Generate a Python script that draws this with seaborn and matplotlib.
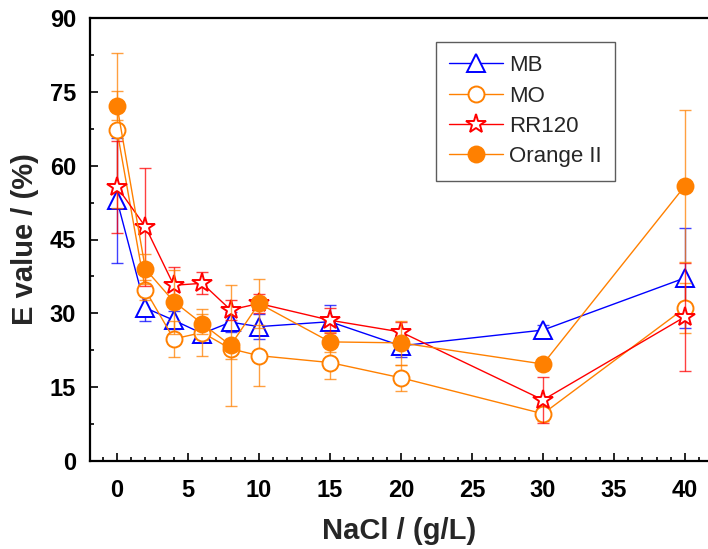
import numpy as np
import pandas as pd
import matplotlib
matplotlib.use("Agg")
import matplotlib.pyplot as plt
from matplotlib.ticker import MultipleLocator
import seaborn as sns

# ---- data ----
nacl = [0, 2, 4, 6, 8, 10, 15, 20, 30, 40]
series_names = ["MB", "MO", "RR120", "Orange II"]
mb = [53.0, 31.1, 28.6, 25.9, 28.2, 27.3, 28.3, 23.4, 26.6, 37.2]
mb_err = [12.7, 2.7, 1.8, 1.5, 2.0, 2.5, 3.4, 2.2, 1.0, 10.1]
mo = [67.2, 34.7, 24.8, 26.1, 22.8, 21.4, 20.0, 16.9, 9.6, 31.1]
mo_err = [15.7, 2.0, 3.7, 4.7, 2.0, 6.2, 3.3, 2.7, 1.5, 5.0]
rr120 = [55.7, 47.6, 35.7, 36.1, 30.7, 32.0, 28.6, 26.2, 12.4, 29.3]
rr120_err = [9.4, 12.0, 3.8, 2.2, 2.0, 2.0, 2.5, 2.0, 4.7, 11.0]
orange2 = [72.2, 39.0, 32.4, 27.9, 23.5, 32.0, 24.2, 24.0, 19.7, 55.9]
orange2_err = [3.0, 3.0, 6.5, 2.0, 12.3, 5.0, 2.0, 4.5, 1.2, 15.4]
x_ticks = [0, 5, 10, 15, 20, 25, 30, 35, 40]
y_ticks = [0, 15, 30, 45, 60, 75, 90]

values = [mb, mo, rr120, orange2]
errors = [mb_err, mo_err, rr120_err, orange2_err]

df = pd.concat([
    pd.DataFrame({"NaCl": nacl, "E": v, "err": e, "dye": n})
    for n, v, e in zip(series_names, values, errors)
], ignore_index=True)

sns.set_style("ticks")
plt.rcParams["font.family"] = ["Liberation Sans", "DejaVu Sans"]

fig = plt.figure(figsize=(7.08, 5.49), dpi=100)
ax = fig.add_axes([90 / 708, 88 / 549, 618 / 708, 443 / 549])

styles = {
    "MB": dict(color="#0000FF", marker="^", ms=13.5, mfc="white"),
    "MO": dict(color="#FF8000", marker="o", ms=11.5, mfc="white"),
    "RR120": dict(color="#FF0000", marker="*", ms=15, mfc="white"),
    "Orange II": dict(color="#FF8000", marker="o", ms=11.5, mfc="#FF8000"),
}

for i, name in enumerate(series_names):
    sub = df[df["dye"] == name]
    st = styles[name]
    ax.errorbar(sub["NaCl"], sub["E"], yerr=sub["err"], fmt="none",
                ecolor=st["color"], elinewidth=1.0, capsize=4, capthick=1.0,
                alpha=0.75, zorder=2 + i * 2)
    sns.lineplot(data=sub, x="NaCl", y="E", ax=ax, color=st["color"],
                 lw=1.0, marker=st["marker"], markersize=st["ms"],
                 markerfacecolor=st["mfc"], markeredgecolor=st["color"],
                 markeredgewidth=1.4, label=name, zorder=3 + i * 2,
                 errorbar=None, sort=False)

ax.set_xlim(-1.9, 41.62)
ax.set_ylim(0, 90)
ax.set_xticks(x_ticks)
ax.set_yticks(y_ticks)
ax.xaxis.set_minor_locator(MultipleLocator(1))
ax.yaxis.set_minor_locator(MultipleLocator(7.5))
ax.tick_params(which="both", direction="in", width=1.2, colors="black")
ax.tick_params(which="major", length=6)
ax.tick_params(which="minor", length=3)
ax.tick_params(axis="x", which="major", pad=13, labelsize=17)
ax.tick_params(axis="y", which="major", pad=10, labelsize=17)
for lab in ax.get_xticklabels() + ax.get_yticklabels():
    lab.set_fontweight("bold")

for s in ["left", "bottom", "top"]:
    ax.spines[s].set_linewidth(1.6)
    ax.spines[s].set_color("black")
ax.spines["right"].set_visible(False)

ax.set_xlabel("NaCl / (g/L)", fontsize=21, fontweight="bold", labelpad=11)
ax.set_ylabel("E value / (%)", fontsize=21, fontweight="bold", labelpad=8)

leg = ax.legend(loc="upper left", bbox_to_anchor=(0.56, 0.946), borderaxespad=0,
                fontsize=16, frameon=True, fancybox=False, edgecolor="#333333",
                handlelength=2.4, labelspacing=0.42, handletextpad=0.3,
                borderpad=0.6)
leg.get_frame().set_linewidth(1.0)

fig.savefig("out.png", dpi=100)
